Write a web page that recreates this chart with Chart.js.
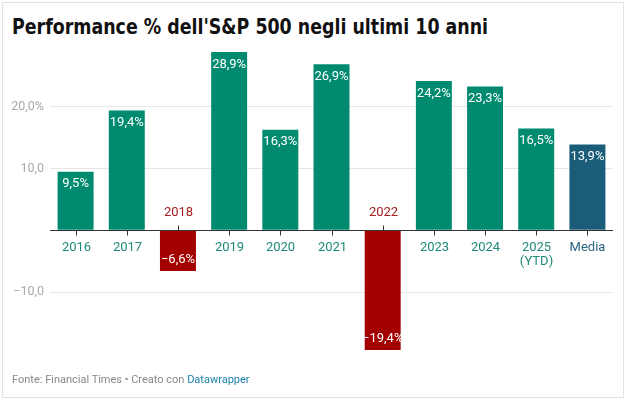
<!DOCTYPE html>
<html>
<head>
<meta charset="utf-8">
<script src="https://cdn.jsdelivr.net/npm/chart.js@4"></script>
<style>
  html, body { margin: 0; padding: 0; background: #fff; }
  #wrap { position: relative; width: 627px; height: 400px; overflow: hidden; }
  #frame { position: absolute; left: 2px; top: 2px; width: 620px; height: 394px; border: 1px solid #e2e2e2; }
  #title { position: absolute; left: 12px; top: 14px; font: bold 22px "Liberation Sans Narrow", "DejaVu Sans Condensed", Roboto, sans-serif; color: #111; white-space: nowrap; transform-origin: 0 0; }
  #footer { position: absolute; left: 12px; top: 373px; font: 11px Roboto, sans-serif; color: #888; white-space: nowrap; }
  #footer span { color: #1b7fab; }
  canvas { position: absolute; left: 0; top: 0; }
</style>
</head>
<body>
<div id="wrap">
  <div id="frame"></div>
  <div id="title">Performance % dell'S&amp;P 500 negli ultimi 10 anni</div>
  <canvas id="chart" width="627" height="400"></canvas>
  <div id="footer">Fonte: Financial Times • Creato con <span>Datawrapper</span></div>
</div>
<script>
// data
const categories = ['2016', '2017', '2018', '2019', '2020', '2021', '2022', '2023', '2024', ['2025', '(YTD)'], 'Media'];
const returns = [9.5, 19.4, -6.6, 28.9, 16.3, 26.9, -19.4, 24.2, 23.3, 16.5, 13.9];
const yTicks = [-10, 0, 10, 20];
const yTickLabels = ['\u221210,0', '', '10,0', '20,0%'];

const GREEN = '#008b71', RED = '#a30000', BLUE = '#1b5d79';
const barColor = (v, i) => categories[i] === 'Media' ? BLUE : (v < 0 ? RED : GREEN);
const labelColor = (v, i) => categories[i] === 'Media' ? '#2b6282' : (v < 0 ? '#a41c1c' : '#1f8a7b');
const fmt = v => (v < 0 ? '\u2212' : '') + Math.abs(v).toFixed(1).replace('.', ',') + '%';

// the title font is condensed in the original; squeeze ours to the same width
const title = document.getElementById('title');
title.style.transform = 'scaleX(' + (476 / title.offsetWidth) + ')';

// zero line, category ticks/labels and value labels inside the bars
const decorations = {
  id: 'decorations',
  afterDatasetsDraw(chart) {
    const { ctx, chartArea } = chart;
    const x = chart.scales.x, y = chart.scales.y;
    const y0 = Math.round(y.getPixelForValue(0)) + 0.5;
    ctx.save();
    ctx.strokeStyle = '#333';
    ctx.lineWidth = 1;
    ctx.beginPath();
    ctx.moveTo(chartArea.left, y0);
    ctx.lineTo(chartArea.right, y0);
    ctx.stroke();

    const meta = chart.getDatasetMeta(0);
    ctx.textAlign = 'center';
    ctx.textBaseline = 'middle';
    returns.forEach((v, i) => {
      const cx = Math.round(x.getPixelForValue(i)) + 0.5;
      const dir = v < 0 ? -1 : 1;
      // tick mark
      ctx.strokeStyle = '#333';
      ctx.beginPath();
      ctx.moveTo(cx, y0);
      ctx.lineTo(cx, y0 + dir * 5);
      ctx.stroke();
      // category label
      ctx.fillStyle = labelColor(v, i);
      ctx.font = '13px Roboto, sans-serif';
      const lines = Array.isArray(categories[i]) ? categories[i] : [categories[i]];
      lines.forEach((t, k) => ctx.fillText(t, cx, y0 + dir * 17.5 + k * 14));
      // value label
      const bar = meta.data[i];
      ctx.fillStyle = '#fff';
      ctx.font = '13px Roboto, sans-serif';
      const ly = v < 0 ? bar.y - 11.5 : bar.y + 12.5;
      ctx.fillText(fmt(v), bar.x, ly);
    });
    ctx.restore();
  }
};

new Chart(document.getElementById('chart'), {
  type: 'bar',
  data: {
    labels: categories,
    datasets: [{
      data: returns,
      backgroundColor: returns.map(barColor),
      borderWidth: 0,
      barPercentage: 0.703,
      categoryPercentage: 1
    }]
  },
  options: {
    responsive: false,
    animation: false,
    devicePixelRatio: 1,
    layout: { padding: { top: 52, bottom: 50, left: 0, right: 14 } },
    plugins: { legend: { display: false }, tooltip: { enabled: false }, title: { display: false } },
    scales: {
      x: { display: false },
      y: {
        min: -19.4,
        max: 28.9,
        afterBuildTicks: s => { s.ticks = yTicks.map(v => ({ value: v })); },
        afterFit: s => { s.width = 50; },
        border: { display: false },
        grid: {
          drawTicks: false,
          color: c => c.tick && c.tick.value === 0 ? 'rgba(0,0,0,0)' : '#e6e6e6'
        },
        ticks: {
          padding: 6,
          color: '#a8a8a8',
          font: { family: 'Roboto', size: 12.5 },
          callback: v => yTickLabels[yTicks.indexOf(v)]
        }
      }
    }
  },
  plugins: [decorations]
});
</script>
</body>
</html>
